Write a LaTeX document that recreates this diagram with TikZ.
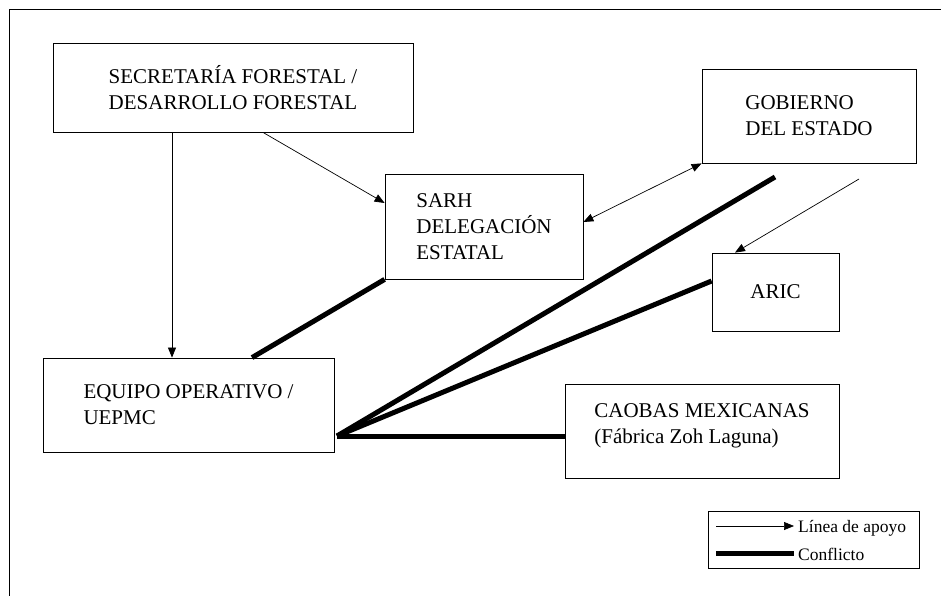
\documentclass[tikz,border=0pt]{standalone}
\usepackage{fontspec}
\setmainfont{Liberation Serif}
\usetikzlibrary{arrows.meta}
\begin{document}
\begin{tikzpicture}[x=1pt,y=-1pt,
  box/.style={draw, line width=0.8pt, inner sep=0pt, align=left, font=\fontsize{21}{26}\selectfont},
  boxtext/.style={inner sep=0pt, align=left, font=\fontsize{21}{26}\selectfont},
  support/.style={-{Triangle[length=10pt,width=8pt]}, line width=0.7pt},
  bisupport/.style={{Triangle[length=10pt,width=8pt]}-{Triangle[length=10pt,width=8pt]}, line width=0.7pt},
  conflict/.style={line width=5pt},
  legtext/.style={anchor=base west, inner sep=0pt, font=\fontsize{17.5}{20}\selectfont}]
\useasboundingbox (0,0) rectangle (941,596);
\draw[line width=0.8pt] (9,596) -- (9,9) -- (941,9);

\node[box, minimum width=360pt, minimum height=89pt] (sec) at (233,87.5) {SECRETARÍA FORESTAL /\\DESARROLLO FORESTAL};
\node[box, minimum width=198pt, minimum height=105pt] (sarh) at (484,226.5) {SARH\\DELEGACIÓN\\ESTATAL};
\node[box, minimum width=214pt, minimum height=94pt] (gob) at (809,116) {GOBIERNO\\DEL ESTADO};
\node[box, minimum width=127pt, minimum height=78pt] (aric) at (775.5,292) {ARIC};
\node[box, minimum width=291pt, minimum height=94pt] (equ) at (188.5,405) {EQUIPO OPERATIVO /\\UEPMC};
\node[box, minimum width=274pt, minimum height=94pt] (cao) at (702,431) {};
\node[boxtext] (caotext) at ([yshift=5.5pt]cao.center) {CAOBAS MEXICANAS\\(Fábrica Zoh Laguna)};

% support lines
\draw[support] (172,0 |- sec.south) -- (172,0 |- equ.north);
\draw[support] (263,0 |- sec.south) -- (sarh.west |- 0,203);
\draw[bisupport] (sarh.east |- 0,222) -- (gob.south west);
\coordinate (gfree) at (859,179);
\draw[support] (gfree) -- (735,0 |- aric.north);

% conflict lines
\coordinate (hub) at (337,436);
\coordinate (gconf) at (775,177);
\draw[conflict] (252,0 |- equ.north) -- (sarh.south west);
\draw[conflict] (hub) -- (gconf);
\draw[conflict] (hub) -- (aric.west |- 0,281);
\draw[conflict] (hub) -- (cao.west |- hub);

% legend
\node[draw, line width=0.8pt, minimum width=211pt, minimum height=57pt, inner sep=0pt] (leg) at (813.5,539.5) {};
\coordinate (la1) at (716,526);
\coordinate (la2) at (794,526);
\coordinate (lb1) at (716,553);
\coordinate (lb2) at (794,553);
\draw[support] (la1) -- (la2);
\draw[conflict] (lb1) -- (lb2);
\node[legtext] (lt1) at (798,532) {Línea de apoyo};
\node[legtext] (lt2) at (798,560) {Conflicto};
\end{tikzpicture}
\end{document}
